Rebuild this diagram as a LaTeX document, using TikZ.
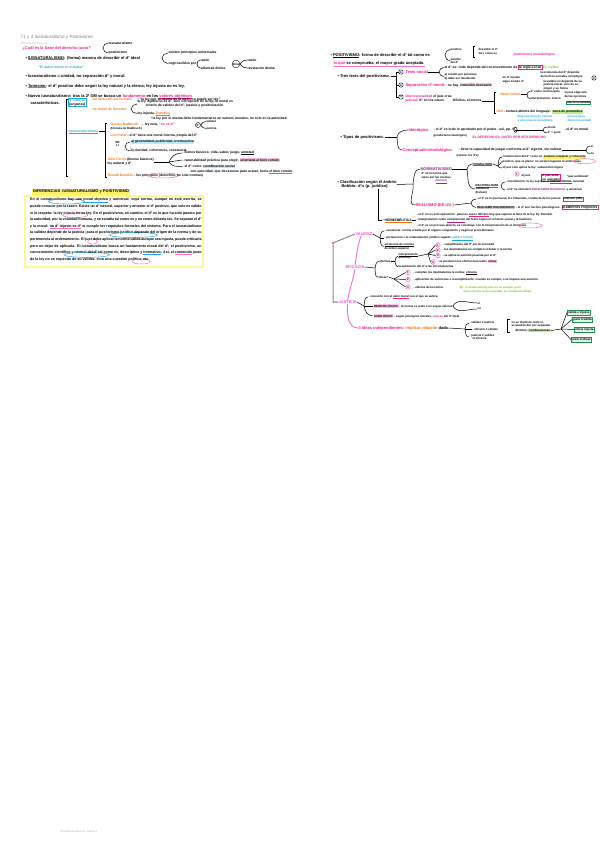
\documentclass[tikz,border=0pt]{standalone}
\usepackage{fontspec}
\setmainfont{Liberation Sans}
\usetikzlibrary{shapes.geometric}
\definecolor{pinkc}{HTML}{EE1C8E}
\definecolor{lpink}{HTML}{F46FD0}
\definecolor{lpinkt}{HTML}{F050D0}
\definecolor{orangec}{HTML}{F7700F}
\definecolor{bluec}{HTML}{1EA7E1}
\definecolor{hlblue}{HTML}{BFEAFB}
\definecolor{hlpink}{HTML}{FBC3E6}
\definecolor{purplec}{HTML}{A3199C}
\definecolor{greenc}{HTML}{74C21C}
\definecolor{hlgreen}{HTML}{BEEB8F}
\definecolor{hlyellow}{HTML}{FFF06A}
\definecolor{ybox}{HTML}{FFF59A}
\definecolor{treegray}{HTML}{8C8C8C}
\definecolor{gdark}{HTML}{1F8F4E}
\definecolor{gfill}{HTML}{DDF3E3}
\definecolor{hlgray}{HTML}{CFCFCF}
\newcommand\szA{\fontsize{4}{4.8}\selectfont\bfseries}
\newcommand\szB{\fontsize{3.35}{4.1}\selectfont\bfseries}
\newcommand\szC{\fontsize{2.9}{3.5}\selectfont\bfseries}
\newcommand\szD{\fontsize{4.6}{5.4}\selectfont}
\newcommand\szP{\fontsize{3.6}{6.6}\selectfont\bfseries}
\newcommand\ulc[2]{\tikz[baseline=(e.base)]{\node[inner sep=0pt,outer sep=0pt](e){#2};\draw[draw=#1,line width=0.45pt,overlay]([yshift=-0.5pt]e.south west)--([yshift=-0.5pt]e.south east);}}
\newcommand\elc[2]{\tikz[baseline=(e.base)]{\node[inner sep=0pt,outer sep=0pt](e){#2};\node[overlay,ellipse,draw=#1,line width=0.5pt,inner sep=0pt,minimum height=5pt] at (e.center){\phantom{#2}};}}
\newcommand\hlc[2]{\tikz[baseline=(e.base)]{\node[inner xsep=0.6pt,inner ysep=0.4pt,outer sep=0pt,fill=#1](e){#2};}}
\newcommand\bxc[2]{\tikz[baseline=(e.base)]{\node[inner sep=0.5pt,outer sep=0pt,draw=#1,line width=0.45pt](e){#2};}}
\tikzset{
 tx/.style={anchor=west,inner sep=0pt,outer sep=0.5pt,font=\szA,text=black},
 sm/.style={tx,font=\szB},
 tn/.style={tx,font=\szC},
 pk/.style={text=pinkc}, og/.style={text=orangec}, bl/.style={text=bluec},
 pu/.style={text=purplec}, gn/.style={text=greenc}, gy/.style={text=gray},
 ln/.style={draw=black,line width=0.5pt},
 tree/.style={draw=treegray,line width=1pt},
 pcurve/.style={draw=lpink,line width=0.9pt},
 cnum/.style={circle,draw=black,line width=0.4pt,inner sep=0pt,minimum size=4.4pt,font=\szC},
 pcnum/.style={cnum,draw=lpink,line width=0.55pt},
 gbox/.style={anchor=west,draw=gdark,fill=gfill,line width=0.6pt,inner sep=1pt,font=\szC},
}
\begin{document}
\begin{tikzpicture}[x=0.035cm,y=-0.035cm]
\useasboundingbox[fill=white] (0,0) rectangle (600,848);

% ================= LEFT COLUMN =================
\node[tx,font=\szD,gy] (title) at (20,37) {T1 y 4 Iusnaturalismo y Positivismo};
\node[tx,font=\fontsize{2.9}{3.5}\selectfont,text=gray!50] (sub) at (20,43) {Filosofía del Derecho};
\node[tx,pk] (q) at (22,48) {¿Cuál es la base del derecho justo?};
\coordinate (fq) at (103,48);
\node[sm] (qa) at (108,43) {iusnaturalismo};
\node[sm] (qb) at (108,53) {positivismo};
\draw[ln] (qa.west) to[out=180,in=80] (fq) to[out=-80,in=180] (qb.west);

\node[tx] (iu) at (25,58) {• \ulc{bluec}{IUSNATURALISMO}: (forma) manera de describir el d° ideal};
\coordinate (fiu) at (162,58);
\node[sm] (iua) at (168,53) {existen principios universales};
\node[sm] (iub) at (168,63.5) {cognoscibles por};
\draw[ln] (iua.west) to[out=180,in=80] (fiu) to[out=-80,in=180] (iub.west);
\coordinate (fiub) at (197,64);
\node[sm] (ra1) at (200,60) {razón};
\node[sm] (vd) at (200,68) {voluntad divina};
\draw[ln] (ra1.west) to[out=180,in=80] (fiub) to[out=-80,in=180] (vd.west);
\node[circle,draw,line width=0.4pt,inner sep=0.4pt,font=\szC] (dios) at (236,64) {Dios};
\node[sm] (ra2) at (247,60) {razón};
\node[sm] (rev) at (247,68) {revelación divina};
\draw[ln] (dios.east) to[out=60,in=180] (ra2.west);
\draw[ln] (dios.east) to[out=-60,in=180] (rev.west);

\node[sm,bl] (lema) at (38,67) {“El deber existe en el deber”};
\node[tx] (un) at (25,76) {• Iusnaturalismo = unidad, no separación d° y moral.};
\node[tx] (tom) at (25,86) {• \ulc{orangec}{Tomismo}: el d° positivo debe seguir la ley natural y la eterna; ley injusta no es ley.};
\node[tx] (nue) at (25,96) {• Nuevo iusnaturalismo: tras la 2ª GM se busca un \textcolor{pinkc}{fundamento} en los \ulc{pinkc}{\textcolor{pinkc}{valores objetivos}}};

\node[tx] (car) at (30,103) {características.};
\draw[ln] (68,99) -- (66,99) -- (66,176) -- (68,176);
\node[sm,draw=bluec,line width=0.45pt,inner sep=0.6pt,align=left,anchor=north west] (dn) at (68,97.5) {\textcolor{bluec}{d° natural}\\(orígenes)};
\node[sm,og] (ideas) at (92,99.5) {las ideas del ser humano};
\node[sm] (idc) at (137,99.5) {; “la ley que se aparta de la razón no puede ser ley.”};
\node[sm,og] (vis) at (92,109) {no visión de Derecho};
\coordinate (fvis) at (131,109);
\node[sm,align=left] (visa) at (137,104) {la ley injusta no es d°, sino corrupción de la ley; la moral es\\\hspace*{8pt}criterio de validez del d°, justicia y positivización};
\node[sm] (visb) at (137,113.5) {ley injusta. \ulc{orangec}{\textcolor{orangec}{Estudios}}};
\draw[ln] (visa.west) to[out=180,in=80] (fvis) to[out=-80,in=180] (visb.west);
\node[sm] (fund) at (150,119) {• la ley por sí misma debe fundamentarse en valores morales, no solo en la autoridad.};

\node[sm] (neo) at (68,131) {\ulc{bluec}{\textcolor{bluec}{neoiusnaturalismo}}};
\draw[ln] (107,123) -- (105,123) -- (105,177) -- (107,177);
\draw[ln] (neo.east) -- (105,131);
\node[sm,og] (rad) at (110,124) {Gustav Radbruch};
\node[tn] (radb) at (110,128.5) {(fórmula de Radbruch)};
\node[sm] (radc) at (140,124.5) {→ ley nula, \textcolor{pinkc}{“no es d°”}};
\node[circle,draw,line width=0.4pt,inner sep=0.5pt,font=\szC] (radcirc) at (198,125) {d°};
\node[tn] (rj1) at (206,121.5) {validez};
\node[tn] (rj2) at (206,128.5) {justicia};
\draw[ln] (radcirc.east) to[out=60,in=180] (rj1.west);
\draw[ln] (radcirc.east) to[out=-60,in=180] (rj2.west);

\node[sm] (ful) at (110,136) {\textcolor{orangec}{Lon Fuller} - el d° tiene una moral interna, propia del d°};
\node[tn,align=center] (reli) at (115,144) {RE\\LI};
\coordinate (fful) at (125,146.5);
\node[sm,fill=hlblue,inner sep=0.5pt] (fa) at (130,142) {a) generalidad, publicidad, irretroactiva};
\node[sm] (fb) at (130,151) {b) claridad, coherencia, constancia};
\draw[ln] (fa.west) to[out=180,in=80] (fful) to[out=-80,in=180] (fb.west);

\node[sm,align=left] (fin) at (107,162) {\textcolor{orangec}{John Finnis} (bienes básicos)\\ley natural y d°};
\coordinate (ffin) at (169,162);
\draw[ln] (fin.east) -- (ffin);
\node[sm] (fi1) at (182,153) {- bienes básicos: vida, saber, juego, \ulc{black}{amistad}};
\node[sm] (fi2) at (182,160) {- razonabilidad práctica para elegir, \hlc{hlpink}{orientada al bien común}};
\node[sm] (fi3) at (182,166.5) {- el d° como \hlc{hlblue}{coordinación social}};
\node[sm] (fi4) at (190,172) {con autoridad, que da razones para actuar, hacia \ulc{bluec}{el bien común}};
\draw[ln] (ffin) to[out=70,in=180] (fi1.west);
\draw[ln] (ffin) -- (fi2.west);
\draw[ln] (ffin) to[out=-60,in=180] (fi3.west);
\node[sm] (dw) at (107,175.5) {\textcolor{orangec}{Ronald Dworkin} - \elc{lpink}{los principios} (derechos, no solo normas)};

% ---- yellow box ----
\node[anchor=west,fill=hlyellow,inner sep=0.8pt,font=\szA] (ytit) at (32,192) {DIFERENCIAS \ IUSNATURALISMO y POSITIVISMO};
\draw[draw=ybox,line width=1.5pt] (25,196) rectangle (203,267);
\node[anchor=north west,inner sep=0pt,text width=6cm,align=justify,font=\szP] (par) at (30,198) {En el \elc{bluec}{iusnaturalismo} hay una \ulc{bluec}{moral objetiva} y universal, cuya norma, aunque no esté escrita, se puede conocer por la razón. Existe un d° natural, superior y anterior al d° positivo, que solo es válido si lo respeta: la \elc{lpink}{ley injusta} no es ley. En el positivismo, en cambio, el d° es lo que ha sido puesto por la autoridad, por la voluntad humana, y se estudia tal como es y no como debería ser. Se separan el d° y la moral: \ulc{lpink}{un d° injusto es d°} si cumple los requisitos formales del sistema. Para el iusnaturalismo la validez depende de la justicia; para el \elc{bluec}{positivismo jurídico} depende del origen de la norma y de su pertenencia al ordenamiento. El \elc{lpink}{juez} debe aplicar la norma válida aunque sea injusta, puede criticarla pero no dejar de aplicarla. El iusnaturalismo busca un fundamento moral del d°; el positivismo, un conocimiento \elc{bluec}{científico y neutral} del d° tal como es, descriptivo y \ulc{bluec}{normativo}. Así, el \ulc{lpink}{contenido} justo de la ley no es requisito de su validez, sino una cuestión \elc{lpink}{política}, etc.};

% ================= RIGHT COLUMN =================
\node[tx] (pos) at (330,55) {• \ulc{black}{POSITIVISMO}: forma de describir el d° tal como es};
\node[tx] (pos2) at (333,63.5) {\ulc{lpink}{\textcolor{pinkc}{lo que} se comprueba, el mayor grado aceptado.}};
\coordinate (fpos) at (445,55);
\node[tn] (pa) at (450,49.5) {positivo};
\node[tn,align=left] (pb) at (450,61) {estudio\\del d°};
\draw[ln] (pa.west) to[out=180,in=80] (fpos) to[out=-80,in=180] (pb.west);
\draw[ln] (475,46) -- (473,46) -- (473,57) -- (475,57);
\node[tn,align=left] (desc) at (478,51.5) {describir el d°\\tal y como es};
\node[sm,pk] (pmet) at (513,55) {positivismo metodológico};

\node[tx] (tres) at (337,76) {• Tres tesis del positivismo.};
\coordinate (ft) at (396,76);
\node[cnum] (n1) at (401,72) {1};
\node[cnum] (n2) at (401,85) {2};
\node[cnum] (n3) at (401,97) {3};
\draw[ln] (tres.east) -- (ft);
\draw[ln] (n1.west) -| (ft) |- (n3.west);
\draw[ln] (ft) |- (n2.west);
\node[tx,pk] (t1) at (405,72) {Tesis social};
\coordinate (ft1) at (439,72);
\node[sm] (t1a) at (444,67.5) {el d° es: todo depende del reconocimiento de \bxc{pinkc}{la regla social} \textcolor{greenc}{Ej: tráfico}};
\node[tn,align=left] (t1b) at (444,76.5) {a) creado por personas\\b) debe ser obedecido};
\draw[ln] (t1.east) -- (ft1);
\draw[ln] (t1a.west) to[out=180,in=80] (ft1) to[out=-80,in=180] (t1b.west);
\node[tn,align=left] (t1c) at (540,75) {la existencia del d° depende\\de hechos sociales complejos};
\node[tx] (t2) at (405,85) {\textcolor{pinkc}{Separación d°-moral} {\szB - no hay \hlc{hlpink}{conexión necesaria}}};
\node[tn,align=left] (t2b) at (502,80) {un d° injusto\\sigue siendo d°};
\node[tn,align=left] (t2d) at (543,85) {la validez no depende de su\\justicia moral, sino de su\\origen y su forma};
\node[cnum] (c2) at (594,78) {2};
\node[sm,align=left] (t3) at (405,98.5) {\textcolor{pinkc}{Discrecionalidad} el juez crea\\\textcolor{pinkc}{judicial}: d° en los casos};
\node[sm] (t3b) at (452,101) {difíciles, al menos};
\draw[ln] (496,92) -- (494,92) -- (494,113) -- (496,113);
\draw[ln] (t3b.east) -- (494,101);
\node[sm,og] (kel) at (500,94) {Hans Kelsen};
\coordinate (fkel) at (527,94);
\node[tn] (kela) at (530,91.5) {d° como ciencia pura};
\node[tn] (kelb) at (530,99) {interpretación: marco};
\draw[ln] (kel.east) -- (fkel);
\draw[ln] (kela.west) to[out=180,in=80] (fkel) to[out=-80,in=180] (kelb.west);
\node[tn,align=left] (kelc) at (564,95) {el juez elige una\\de las opciones};
\node[tn,draw=gdark,line width=0.45pt,inner sep=0.5pt] (kelg) at (566,102.5) {discrecionalidad};
\node[sm] (hart) at (496,112) {\textcolor{orangec}{Hart} - textura abierta del lenguaje: \hlc{hlgreen}{zona de penumbra}};
\node[tn,bl,align=left] (hb1) at (517,119) {(hay una zona de certeza\\y una zona de penumbra)};
\node[tn,bl,align=left] (hb2) at (567,119) {(el juez tiene\\discrecionalidad)};

\node[tx] (tipos) at (340,137) {• Tipos de positivismo.};
\coordinate (ftip) at (397,137);
\node[tx,pk] (ideo) at (408,130) {Ideológico};
\node[tx,pk] (conc) at (402,150) {Conceptual/metodológico};
\draw[ln] (tipos.east) -- (ftip);
\draw[ln] (ideo.west) to[out=180,in=80] (ftip) to[out=-80,in=180] (conc.west);
\node[sm] (ideoa) at (433,130) {: el d° es todo lo aprobado por el poder - así, pp. \elc{black}{S}};
\coordinate (fid) at (543,130);
\node[tn] (ida) at (547,127) {moral};
\node[tn] (idb) at (547,133) {d° = justo};
\draw[ln] (ideoa.east) -- (fid);
\draw[ln] (ida.west) to[out=180,in=80] (fid) to[out=-80,in=180] (idb.west);
\node[sm] (ideoc) at (564,130) {, el d° es moral};
\node[tn] (ideod) at (433,136) {(positivismo ideológico)};
\node[sm,pk] (ideop) at (472,137) {EL DERECHO ES JUSTO POR SER DERECHO};
\node[sm] (conca) at (458,150) {: tiene la capacidad de juzgar conforme al d° vigente, sin valorar};
\coordinate (fco) at (586,150);
\node[tn] (coa) at (590,146) {sí};
\node[tn] (cob) at (590,154) {no};
\draw[ln] (conca.east) -- (fco);
\draw[ln] (coa.west) to[out=180,in=80] (fco) to[out=-80,in=180] (cob.west);
\node[tn] (concb) at (456,155.5) {(valorar los d°s)};

\node[tx,align=left] (clas) at (337,184.5) {• Clasificación según el ámbito\\\hspace*{4pt}Bobbio: d°s (p. jurídico)};
\coordinate (fcl) at (413,184);
\node[tx,pu] (norm) at (420,169) {NORMATIVISMO};
\node[tn,align=left] (normb) at (421,177.5) {d° es la norma que\\viene por las normas\\\hspace*{14pt}\ulc{purplec}{\textcolor{purplec}{(Kelsen)}}};
\node[tx,pk] (real) at (415,205) {REALISMO (EE.UU.)};
\draw[ln] (clas.east) -- (fcl);
\draw[ln] (norm.west) to[out=180,in=80] (fcl) to[out=-80,in=180] (real.west);
\coordinate (fnorm) at (467,169);
\draw[ln] (norm.east) -- (fnorm);
\node[tn] (form) at (472,164) {\ulc{pinkc}{FORMALISMO}};
\node[tn,align=left] (racio) at (475,189) {\ulc{pinkc}{RACIONALISMO}\\JURÍDICO\\(Kelsen)};
\draw[ln] (form.west) to[out=180,in=80] (fnorm) to[out=-80,in=180] (racio.west);
\coordinate (ffo) at (498,166);
\draw[ln] (form.east) -- (ffo);
\node[tn] (fo1) at (502,157) {construcción del d° como un \hlc{hlyellow}{sistema completo y coherente}};
\node[tn] (fo2) at (502,161.5) {positivo, que es pleno: no existen lagunas ni \elc{lpink}{antinomias}};
\node[tn] (fo3) at (502,168) {el juez solo aplica la ley: subsunción lógica};
\draw[ln] (fo1.west) to[out=180,in=80] (ffo) to[out=-80,in=180] (fo3.west);
\draw[ln] (ffo) -- (fo2.west);
\node[pcnum] (fo4c) at (517,174) {1};
\node[tn] (fo4) at (521,176) {el juez};
\node[tn,align=left,draw=pinkc,line width=0.45pt,inner sep=0.5pt] (fo5) at (541,177.5) {el juez debe\\ser aplicador};
\node[tn] (fo6) at (566,177) {“juez autómata”};
\coordinate (fra) at (501,186);
\node[tn] (ra1n) at (505,182) {- constitución: la ley expresa el \ulc{pinkc}{ORDEN SOCIAL} racional};
\node[tn] (ra2n) at (505,190) {- el d° es obra del \textcolor{purplec}{LEGISLADOR RACIONAL} y universal};
\draw[ln] (ra1n.west) to[out=180,in=80] (fra) to[out=-80,in=180] (ra2n.west);
\coordinate (fre) at (471,203);
\draw[ln] (real.east) -- (fre);
\node[tn] (re1) at (476,199) {- el d° es lo que hacen los tribunales, conducta de los jueces: \bxc{pinkc}{realismo (AR)}};
\node[tn] (re2) at (476,207.5) {\hlc{hlgray}{REALISMO ESCANDINAVO} - el d° son hechos psicológicos: \bxc{pinkc}{ELEMENTOS PSÍQUICOS}};
\draw[ln] (re1.west) to[out=180,in=80] (fre) to[out=-80,in=180] (re2.west);

\node[sm] (herm) at (382,220) {• \ulc{orangec}{HERMENÉUTICA}};
\coordinate (hv) at (378,220);
\draw[ln] (hv |- clas.south) -- (hv) -- (herm.west);
\node[tn] (he1) at (416,215) {- el d° no es solo aplicación: para los \ulc{pinkc}{casos difíciles} hay que superar la letra de la ley. Ej: Dworkin};
\node[tn] (he2) at (416,220) {- interpretación como \ulc{purplec}{comprensión} del texto según el contexto social y la tradición};
\node[tn] (he3) at (416,225.5) {- el d° es un proceso abierto, se construye con la interpretación de \elc{lpink}{el intérprete}};
\draw[ln] (herm.east) -- (he2.west);

% ---- lower right tree ----
\node[tx,text=lpinkt] (val) at (355,234) {VALIDEZ};
\node[tx,text=lpinkt] (efi) at (345,267) {EFICACIA};
\node[tx,text=lpinkt] (jus) at (338,302) {JUSTICIA};
\node[tx,pk] (tres3) at (358,328) {3 ideas independientes\textcolor{black}{:} \textcolor{orangec}{implicar relación} \textcolor{black}{dada}};
\coordinate (tg) at (333,243);
\draw[tree] (val.west) -- (tg) -- (tg |- jus.west) -- (jus.west);
\fill[lpink] (tg) circle (1.3);
\draw[pcurve] ([xshift=6pt]val.south west) to[out=-110,in=80] (efi.north);
\draw[pcurve] (efi.south) to[out=-100,in=80] (jus.north);
\draw[pcurve] (jus.south) to[out=-95,in=180] (tres3.west);

\coordinate (fva) at (380,238);
\node[tn] (va1) at (384,231) {- existencia: norma creada por el órgano competente y según el procedimiento};
\node[tn] (va2) at (384,238) {- pertenencia = al ordenamiento jurídico vigente \ulc{bluec}{\textcolor{bluec}{(validez formal)}}};
\node[tn,align=left] (va3) at (384,246.5) {\ulc{black}{existencia de normas}\\de orden superior};
\draw[ln] (val.east) -- (fva);
\draw[ln] (va1.west) to[out=180,in=80] (fva) to[out=-80,in=180] (va3.west);
\draw[ln] (fva) -- (va2.west);

\coordinate (fef) at (375,268);
\node[tn] (ef1) at (379,261.5) {efectiva};
\node[tn] (ef2) at (378,277) {eficaz?};
\draw[ln] (efi.east) -- (fef);
\draw[ln] (ef1.west) to[out=180,in=80] (fef) to[out=-80,in=180] (ef2.west);
\coordinate (fe1) at (395,261.5);
\node[tn,align=left] (ef1a) at (398,256) {\ulc{black}{interpretación}\\(efectos)};
\node[tn] (ef1b) at (398,267) {la aplicación del d° a las circunstancias};
\draw[ln] (ef1.east) -- (fe1);
\draw[ln] (ef1a.west) to[out=180,in=80] (fe1) to[out=-80,in=180] (ef1b.west);
\coordinate (fe2) at (428,254);
\node[pcnum] (e1) at (438,245) {1};
\node[pcnum] (e2) at (438,250) {2};
\node[pcnum] (e3) at (438,255.5) {3};
\node[pcnum] (e4) at (433,262) {4};
\draw[ln] (ef1a.east) -- (fe2);
\foreach \n in {e1,e2,e3,e4} \draw[ln] (fe2) -- (\n.west);
\node[tn] (e1t) at (442,245) {- cumplimiento del d° por la sociedad};
\node[tn] (e2t) at (442,250) {- los destinatarios no cumplen el deber o la norma};
\node[tn] (e3t) at (442,255.5) {- se aplica la sanción prevista por el d°};
\node[tn] (e4t) at (437,262) {- se producen los efectos buscados \hlc{hlpink}{eficaz}};
\coordinate (fe3) at (394,279);
\node[pcnum] (f1) at (408,272.5) {1};
\node[pcnum] (f2) at (408,279.5) {2};
\node[pcnum] (f3) at (408,287) {3};
\draw[ln] (ef2.east) -- (fe3);
\foreach \n in {f1,f2,f3} \draw[ln] (fe3) -- (\n.west);
\node[tn] (f1t) at (413,272.5) {- cumplen los destinatarios la norma: \ulc{black}{eficacia}};
\node[tn] (f2t) at (413,279.5) {- aplicación de sanciones o incumplimiento: cuando se cumple, o se impone una sanción.};
\node[tn] (f3t) at (413,287) {- efectos de la norma:};
\node[tn,gn,align=left] (f3g) at (459,290) {(Ej: si existe una ley que no se cumple, pero\\\hspace*{4pt}tiene efectos en la sociedad, se considera eficaz)};

\coordinate (fju) at (364,306);
\node[tn] (j1) at (368,297) {- conexión con el \ulc{pinkc}{valor moral} con el que se valora.};
\node[tn] (j2) at (373,306) {\hlc{hlpink}{DEONTOLÓGICO} - la norma es justa o no según valores};
\node[tn] (j2a) at (477,303) {sí};
\node[tn] (j2b) at (477,309) {no};
\node[tn] (j3) at (373,316) {\hlc{hlpink}{AXIOLÓGICO} - según principios morales, \textcolor{pinkc}{valores} del d° ideal};
\draw[ln] (jus.east) -- (fju);
\draw[ln] (j1.west) to[out=180,in=80] (fju) to[out=-80,in=180] (j3.west);
\draw[ln] (fju) -- (j2.west);
\draw[ln] (j2.east) to[out=60,in=180] (j2a.west);
\draw[ln] (j2.east) to[out=-60,in=180] (j2b.west);

\coordinate (fti) at (465,329);
\node[tn] (ti1) at (469,323) {- validez ≠ justicia};
\node[tn] (ti2) at (472,329) {- eficacia ≠ validez};
\node[tn,align=left] (ti3) at (469,337) {- justicia ≠ validez\\\hspace*{3pt}ni eficacia};
\draw[ln] (tres3.east) -- (fti);
\draw[ln] (ti1.west) to[out=180,in=80] (fti) to[out=-80,in=180] (ti3.west);
\draw[ln] (fti) -- (ti2.west);
\draw[ln] (510,319) -- (507,319) -- (507,332) -- (510,332);
\node[tn,align=left] (tib) at (511,324) {no se implican entre sí,\\se pueden dar por separado};
\node[tn] (tig) at (515,330.5) {(Bobbio) \hlc{hlgreen}{combinaciones}};
\coordinate (fg) at (561,329);
\node[gbox] (g1) at (567,312.5) {válida e injusta};
\node[gbox] (g2) at (572,319.5) {justa inválida};
\node[gbox] (g3) at (574,329.5) {eficaz injusta};
\node[gbox] (g4) at (571,339.5) {justa ineficaz};
\draw[ln] (tig.east) -- (fg);
\foreach \g in {g1,g2,g3,g4} \draw[ln] (fg) -- (\g.west);

% footer
\node[tx,text=gray!60,font=\fontsize{2.6}{3}\selectfont] (foot) at (60,832) {Filosofía del Derecho · página 1};
\end{tikzpicture}
\end{document}
